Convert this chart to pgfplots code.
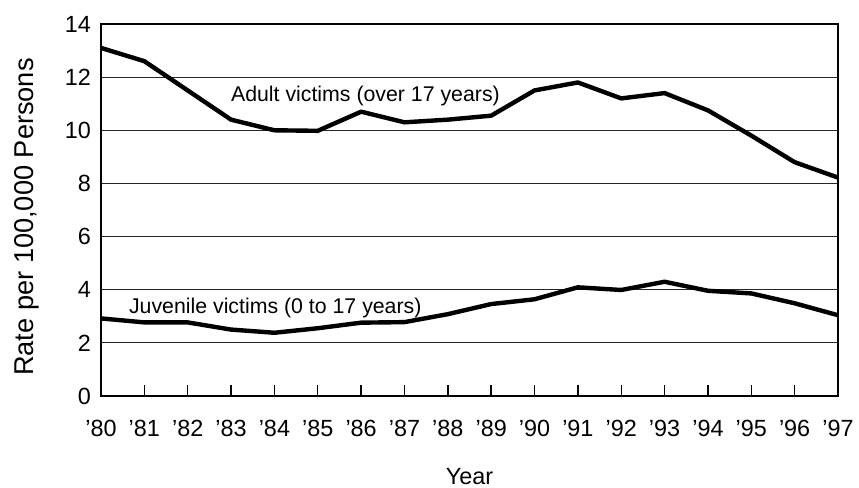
\documentclass[border=0pt]{standalone}
\usepackage{fontspec}
\setmainfont{Liberation Sans}
\usepackage{pgfplots}
\pgfplotsset{compat=1.18}
\begin{document}
\begin{tikzpicture}[x=1pt,y=1pt]
\useasboundingbox (-50.5,-46) rectangle (379,198);
\begin{axis}[
  at={(0,0)}, anchor=south west,
  scale only axis, width=368.5pt, height=186pt,
  xmin=0, xmax=17, ymin=0, ymax=14,
  xtick={0,...,17},
  xticklabels={'80,'81,'82,'83,'84,'85,'86,'87,'88,'89,'90,'91,'92,'93,'94,'95,'96,'97},
  ytick={0,2,...,14},
  ymajorgrids, grid style={black!85, line width=0.6pt},
  xtick pos=bottom, ytick style={draw=none},
  xtick style={black, line width=0.7pt},
  tick align=inside, major tick length=5.5pt,
  axis line style={line width=0.8pt},
  tick label style={font=\fontsize{11.7}{13}\selectfont},
  /pgf/number format/assume math mode=true,
  xticklabel style={anchor=center, yshift=-16pt},
  yticklabel style={xshift=-1.5pt},
  xlabel={Year}, ylabel={Rate per 100,000 Persons},
  xlabel style={font=\fontsize{11.7}{13}\selectfont, at={(axis description cs:0.5,0)}, anchor=center, yshift=-40.25pt},
  ylabel style={font=\fontsize{13.6}{15}\selectfont, at={(axis description cs:-0.1004,0.481)}, anchor=center},
]
\addplot[black, line width=2.2pt, line join=round] coordinates {
(0,13.1) (1,12.6) (2,11.5) (3,10.4) (4,10.0) (5,9.98) (6,10.7) (7,10.3) (8,10.4)
(9,10.55) (10,11.5) (11,11.8) (12,11.2) (13,11.4) (14,10.75) (15,9.8) (16,8.8) (17,8.22)};
\addplot[black, line width=2.2pt, line join=round] coordinates {
(0,2.92) (1,2.77) (2,2.77) (3,2.5) (4,2.38) (5,2.55) (6,2.76) (7,2.78) (8,3.08)
(9,3.46) (10,3.64) (11,4.09) (12,3.99) (13,4.3) (14,3.96) (15,3.86) (16,3.49) (17,3.04)};
\node[font=\fontsize{10.65}{12}\selectfont] at (axis cs:6.1,11.3) {Adult victims (over 17 years)};
\node[font=\fontsize{10.65}{12}\selectfont] at (axis cs:4.02,3.32) {Juvenile victims (0 to 17 years)};
\end{axis}
\end{tikzpicture}
\end{document}
